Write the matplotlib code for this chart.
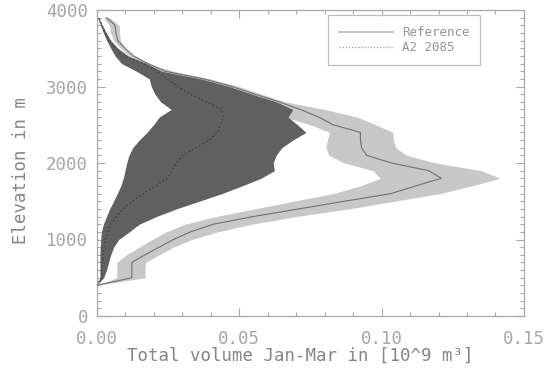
import numpy as np
import matplotlib
matplotlib.use("Agg")
import matplotlib.pyplot as plt
from matplotlib.lines import Line2D
from matplotlib.ticker import MultipleLocator, FixedLocator

# Elevation bands (m)
elevation = [400, 500, 600, 700, 800, 900, 1000, 1100, 1200, 1300, 1400, 1500,
             1600, 1700, 1800, 1900, 2000, 2100, 2200, 2300, 2400, 2500, 2600,
             2700, 2800, 2900, 3000, 3100, 3200, 3300, 3400, 3500, 3600, 3700,
             3800, 3900]

# Reference period: ensemble minimum / median / maximum (10^9 m^3)
ref_min = [0.0, 0.0071, 0.0071, 0.0071, 0.0105, 0.0150, 0.0195, 0.0245, 0.0310,
           0.0420, 0.0555, 0.0690, 0.0830, 0.0925, 0.0995, 0.0970, 0.0870,
           0.0815, 0.0805, 0.0810, 0.0818, 0.0750, 0.0660, 0.0650, 0.0600,
           0.0520, 0.0440, 0.0350, 0.0215, 0.0160, 0.0115, 0.0085, 0.0060,
           0.0050, 0.0045, 0.0025]
ref_med = [0.0, 0.0124, 0.0124, 0.0124, 0.0170, 0.0220, 0.0270, 0.0330, 0.0410,
           0.0550, 0.0710, 0.0870, 0.1033, 0.1120, 0.1210, 0.1165, 0.1035,
           0.0948, 0.0930, 0.0926, 0.0926, 0.0830, 0.0780, 0.0715, 0.0640,
           0.0555, 0.0475, 0.0375, 0.0240, 0.0180, 0.0130, 0.0100, 0.0075,
           0.0068, 0.0065, 0.0035]
ref_max = [0.0, 0.0170, 0.0170, 0.0172, 0.0220, 0.0270, 0.0335, 0.0425, 0.0545,
           0.0700, 0.0885, 0.1045, 0.1205, 0.1315, 0.1416, 0.1350, 0.1190,
           0.1088, 0.1050, 0.1042, 0.1040, 0.0980, 0.0915, 0.0800, 0.0660,
           0.0580, 0.0500, 0.0400, 0.0270, 0.0185, 0.0130, 0.0098, 0.0084,
           0.0081, 0.0080, 0.0045]

# Scenario A2 2085: ensemble minimum / median / maximum (10^9 m^3)
a2_min = [0.0, 0.0012, 0.0012, 0.0012, 0.0012, 0.0013, 0.0015, 0.0017, 0.0024,
          0.0035, 0.0046, 0.0060, 0.0073, 0.0085, 0.0094, 0.0100, 0.0106,
          0.0114, 0.0127, 0.0150, 0.0177, 0.0200, 0.0220, 0.0262, 0.0225,
          0.0205, 0.0192, 0.0185, 0.0140, 0.0088, 0.0065, 0.0050, 0.0036,
          0.0024, 0.0014, 0.0004]
a2_med = [0.0, 0.0018, 0.0019, 0.0020, 0.0023, 0.0027, 0.0031, 0.0040, 0.0052,
          0.0070, 0.0093, 0.0125, 0.0165, 0.0208, 0.0248, 0.0265, 0.0280,
          0.0303, 0.0350, 0.0395, 0.0425, 0.0435, 0.0445, 0.0440, 0.0385,
          0.0330, 0.0285, 0.0246, 0.0215, 0.0165, 0.0088, 0.0065, 0.0048,
          0.0033, 0.0020, 0.0008]
a2_max = [0.0, 0.0025, 0.0035, 0.0042, 0.0050, 0.0060, 0.0078, 0.0115, 0.0150,
          0.0210, 0.0280, 0.0360, 0.0440, 0.0510, 0.0577, 0.0624, 0.0620,
          0.0630, 0.0650, 0.0689, 0.0735, 0.0705, 0.0672, 0.0689, 0.0630,
          0.0545, 0.0465, 0.0365, 0.0228, 0.0175, 0.0111, 0.0075, 0.0050,
          0.0034, 0.0020, 0.0008]

x_ticks = [0.00, 0.05, 0.10, 0.15]
x_tick_labels = ["0.00", "0.05", "0.10", "0.15"]
y_ticks = [0, 1000, 2000, 3000, 4000]
series_labels = ["Reference", "A2 2085"]

W, H = 547, 372
fig = plt.figure(figsize=(W / 100, H / 100), dpi=100)
ax = fig.add_axes([96.5 / W, 1 - 316 / H, (524 - 96.5) / W, (316 - 10) / H])

mono = "DejaVu Sans Mono"
axis_col = "#a8a8a8"
tick_txt = "#a6a6a6"
label_txt = "#858585"

z = np.array(elevation)
ax.fill_betweenx(z, ref_min, ref_max, color="#c8c8c8", linewidth=0, zorder=1)
ax.fill_betweenx(z, a2_min, a2_max, color="#606060", linewidth=0, zorder=2)
ax.plot(ref_med, z, color="#707070", linewidth=0.8, zorder=3)
ax.plot(a2_med, z, color="#3c3c3c", linewidth=0.9, linestyle=(0, (1, 2.2)), zorder=4)

ax.set_xlim(0, 0.15)
ax.set_ylim(0, 4000)
ax.xaxis.set_major_locator(FixedLocator(x_ticks))
ax.set_xticklabels(x_tick_labels)
ax.xaxis.set_minor_locator(MultipleLocator(0.01))
ax.yaxis.set_major_locator(FixedLocator(y_ticks))
ax.yaxis.set_minor_locator(MultipleLocator(100))
ax.set_axisbelow(True)

ax.tick_params(which="both", direction="in", top=True, right=True,
               color=axis_col, width=0.8)
ax.tick_params(which="major", length=6)
ax.tick_params(which="minor", length=3)
ax.tick_params(axis="x", which="major", pad=10, labelsize=12.5, labelcolor=tick_txt)
ax.tick_params(axis="y", which="major", pad=6, labelsize=12.5, labelcolor=tick_txt)
for lab in ax.get_xticklabels() + ax.get_yticklabels():
    lab.set_family(mono)

for sp in ax.spines.values():
    sp.set_color(axis_col)
    sp.set_linewidth(0.9)

ax.set_xlabel("Total volume Jan-Mar in [10^9 m³]", family=mono, fontsize=12.5,
              color=label_txt)
ax.xaxis.set_label_coords(0.476, -0.102)
ax.set_ylabel("Elevation in m", family=mono, fontsize=12.5, color=label_txt)
ax.yaxis.set_label_coords(-0.156, 0.477)

handles = [Line2D([], [], color="#bcbcbc", linewidth=1.2),
           Line2D([], [], color="#9a9a9a", linewidth=0.9, linestyle=(0, (1, 1.5)))]
leg = ax.legend(handles, series_labels, loc="upper left",
                bbox_to_anchor=(0.5415, 0.984), prop={"family": mono, "size": 9},
                frameon=True, fancybox=False, edgecolor="#b0b0b0",
                handlelength=4.3, handletextpad=0.7, borderpad=0.9,
                labelspacing=0.15, borderaxespad=0)
leg.get_frame().set_linewidth(0.9)
for t in leg.get_texts():
    t.set_color("#949494")

fig.savefig("out.png", dpi=100)
